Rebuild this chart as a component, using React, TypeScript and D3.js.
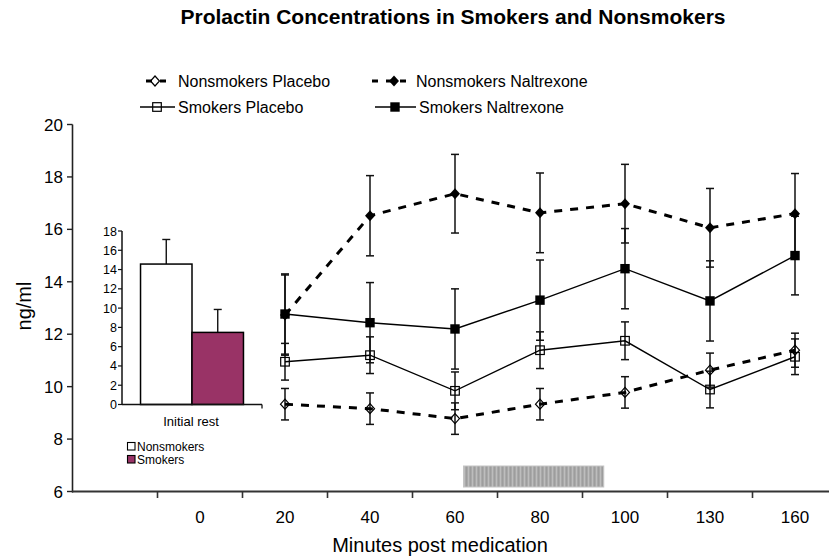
import React from "react";
import * as d3 from "d3";

const categories = ["", "0", "20", "40", "60", "80", "100", "130", "160"];
const timePoints = ["20", "40", "60", "80", "100", "130", "160"];

const nonsmokersPlacebo = [9.33, 9.16, 8.78, 9.33, 9.78, 10.63, 11.39];
const nonsmokersPlaceboErr = [0.6, 0.6, 0.6, 0.6, 0.6, 0.65, 0.65];
const smokersPlacebo = [10.95, 11.2, 9.84, 11.39, 11.75, 9.89, 11.14];
const smokersPlaceboErr = [0.7, 0.7, 0.72, 0.7, 0.72, 0.7, 0.68];
const nonsmokersNaltrexone = [12.73, 16.52, 17.36, 16.63, 16.98, 16.06, 16.6];
const nonsmokersNaltrexoneErr = [1.53, 1.53, 1.5, 1.52, 1.5, 1.5, 1.53];
const smokersNaltrexone = [12.77, 12.44, 12.2, 13.3, 14.5, 13.27, 15.0];
const smokersNaltrexoneErr = [1.53, 1.53, 1.53, 1.53, 1.53, 1.53, 1.5];

const yTicks = [6, 8, 10, 12, 14, 16, 18, 20];

const insetGroups = ["Nonsmokers", "Smokers"];
const insetValues = [14.57, 7.48];
const insetErr = [2.55, 2.38];
const insetTicks = [0, 2, 4, 6, 8, 10, 12, 14, 16, 18];
const insetColors = ["#ffffff", "#993366"];

const stimulusMinutes = [62, 95];

const FONT = "'Liberation Sans', Arial, Helvetica, sans-serif";

type Series = {
  name: string;
  values: number[];
  err: number[];
  dashed: boolean;
  marker: "diamondOpen" | "diamondFilled" | "squareOpen" | "squareFilled";
};

const series: Series[] = [
  { name: "Nonsmokers Placebo", values: nonsmokersPlacebo, err: nonsmokersPlaceboErr, dashed: true, marker: "diamondOpen" },
  { name: "Nonsmokers Naltrexone", values: nonsmokersNaltrexone, err: nonsmokersNaltrexoneErr, dashed: true, marker: "diamondFilled" },
  { name: "Smokers Placebo", values: smokersPlacebo, err: smokersPlaceboErr, dashed: false, marker: "squareOpen" },
  { name: "Smokers Naltrexone", values: smokersNaltrexone, err: smokersNaltrexoneErr, dashed: false, marker: "squareFilled" },
];

function Marker({ type, x, y }: { type: Series["marker"]; x: number; y: number }) {
  if (type === "diamondFilled") {
    return <path d={`M${x},${y - 5.5}L${x + 5},${y}L${x},${y + 5.5}L${x - 5},${y}Z`} fill="#000" />;
  }
  if (type === "diamondOpen") {
    return <path d={`M${x},${y - 5}L${x + 4.5},${y}L${x},${y + 5}L${x - 4.5},${y}Z`} fill="none" stroke="#000" strokeWidth={1.2} />;
  }
  if (type === "squareFilled") {
    return <rect x={x - 4.7} y={y - 4.7} width={9.4} height={9.4} fill="#000" />;
  }
  return <rect x={x - 4.3} y={y - 4.3} width={8.6} height={8.6} fill="none" stroke="#000" strokeWidth={1.2} />;
}

export default function App() {
  const W = 829;
  const H = 557;
  const x = d3.scaleBand<string>().domain(categories).range([72.5, 837.5]).paddingInner(0).paddingOuter(0);
  const y = d3.scaleLinear().domain([6, 20]).range([491.5, 124.5]);
  const bw = x.bandwidth();
  const cx = (c: string) => (x(c) as number) + bw / 2;

  const minuteToX = d3
    .scaleLinear()
    .domain(timePoints.map(Number))
    .range(timePoints.map(cx));

  const line = d3
    .line<number>()
    .x((_, i) => cx(timePoints[i]))
    .y((v) => y(v));

  // inset
  const iy = d3.scaleLinear().domain([0, 18]).range([404.5, 231]);
  const ix0 = 122;
  const ix1 = 262;
  const ixOuter = d3.scaleBand<string>().domain(["Initial rest"]).range([ix0, ix1]);
  const ixInner = d3
    .scaleBand<string>()
    .domain(insetGroups)
    .range([0, ixOuter.bandwidth()])
    .paddingOuter(0.36)
    .paddingInner(0);

  const legendItems = [
    { s: series[0], cx: 155, cy: 81, x1: 146, x2: 172 },
    { s: series[1], cx: 394, cy: 81, x1: 372, x2: 410 },
    { s: series[2], cx: 157, cy: 107, x1: 140, x2: 175 },
    { s: series[3], cx: 395, cy: 107, x1: 375, x2: 416 },
  ];

  const boundaries = categories.slice(1).map((c) => x(c) as number);

  return (
    <svg
      width={W}
      height={H}
      style={{ position: "absolute", left: 0, top: 0, background: "#fff" }}
      fontFamily={FONT}
    >
      <defs>
        <pattern id="stripes" width="4" height="10" patternUnits="userSpaceOnUse">
          <rect width="4" height="10" fill="#a9a9a9" />
          <rect x="0" width="1" height="10" fill="#bdbdbd" />
          <rect x="2" width="1" height="10" fill="#9d9d9d" />
        </pattern>
      </defs>
      <rect width={W} height={H} fill="#fff" />

      {/* Title */}
      <text
        x={453}
        y={23.5}
        textAnchor="middle"
        fontSize={19.5}
        fontWeight="bold"
        textLength={545}
        lengthAdjust="spacingAndGlyphs"
        fill="#000"
      >
        Prolactin Concentrations in Smokers and Nonsmokers
      </text>

      {/* Legend */}
      {legendItems.map(({ s, cx: lx, cy: ly, x1, x2 }) => (
        <g key={s.name}>
          <line
            x1={x1}
            x2={x2}
            y1={ly}
            y2={ly}
            stroke="#000"
            strokeWidth={s.dashed ? 3 : 1.4}
            strokeDasharray={s.dashed ? "6,8" : undefined}
          />
          <Marker type={s.marker} x={lx} y={ly} />
          <text x={s.dashed ? x2 + 6 : x2 + 3} y={ly} dy="0.36em" fontSize={16} fill="#000">
            {s.name}
          </text>
        </g>
      ))}

      {/* Main Y axis */}
      <line x1={72.5} x2={72.5} y1={y(20)} y2={y(6) + 1} stroke="#222" strokeWidth={1.6} />
      {yTicks.map((t) => (
        <g key={t}>
          <line x1={67} x2={72.5} y1={y(t)} y2={y(t)} stroke="#222" strokeWidth={1.4} />
          <text x={63} y={y(t)} dy="0.36em" textAnchor="end" fontSize={17} fill="#000">
            {t}
          </text>
        </g>
      ))}
      <text
        transform={`translate(24,${306}) rotate(-90)`}
        textAnchor="middle"
        dy="0.36em"
        fontSize={20}
        fill="#000"
      >
        ng/ml
      </text>

      {/* Main X axis */}
      <line x1={72} x2={W} y1={y(6)} y2={y(6)} stroke="#333" strokeWidth={2.2} />
      {boundaries.map((b, i) => (
        <line key={i} x1={b} x2={b} y1={y(6)} y2={y(6) + 6.5} stroke="#333" strokeWidth={1.6} />
      ))}
      {categories.map((c) => (
        <text key={c || "blank"} x={cx(c)} y={517} dy="0.36em" textAnchor="middle" fontSize={17} fill="#000">
          {c}
        </text>
      ))}
      <text x={440} y={545} dy="0.36em" textAnchor="middle" fontSize={20} fill="#000">
        Minutes post medication
      </text>

      {/* Stimulus bar */}
      <rect
        x={minuteToX(stimulusMinutes[0])}
        y={466}
        width={minuteToX(stimulusMinutes[1]) - minuteToX(stimulusMinutes[0])}
        height={21}
        fill="url(#stripes)"
        stroke="#c4c4c4"
        strokeWidth={1}
      />

      {/* Error bars */}
      {series.map((s) => (
        <g key={s.name + "err"}>
          {s.values.map((v, i) => {
            const px = cx(timePoints[i]);
            const top = y(v + s.err[i]);
            const bot = y(v - s.err[i]);
            return (
              <g key={i} stroke="#111" strokeWidth={1.5}>
                <line x1={px} x2={px} y1={top} y2={bot} />
                <line x1={px - 4} x2={px + 4} y1={top} y2={top} />
                <line x1={px - 4} x2={px + 4} y1={bot} y2={bot} />
              </g>
            );
          })}
        </g>
      ))}

      {/* Lines */}
      {series.map((s) => (
        <path
          key={s.name + "line"}
          d={line(s.values) || ""}
          fill="none"
          stroke="#000"
          strokeWidth={s.dashed ? 3 : 1.4}
          strokeDasharray={s.dashed ? "8,8" : undefined}
        />
      ))}

      {/* Markers */}
      {series.map((s) => (
        <g key={s.name + "m"}>
          {s.values.map((v, i) => (
            <Marker key={i} type={s.marker} x={cx(timePoints[i])} y={y(v)} />
          ))}
        </g>
      ))}

      {/* Inset chart */}
      <g>
        {insetGroups.map((g, i) => {
          const bx = ix0 + (ixInner(g) as number);
          const bwi = ixInner.bandwidth();
          const top = iy(insetValues[i]);
          const et = iy(insetValues[i] + insetErr[i]);
          const mid = bx + bwi / 2;
          return (
            <g key={g}>
              <line x1={mid} x2={mid} y1={top} y2={et} stroke="#111" strokeWidth={1.4} />
              <line x1={mid - 4} x2={mid + 4} y1={et} y2={et} stroke="#111" strokeWidth={1.4} />
              <rect x={bx} y={top} width={bwi} height={iy(0) - top} fill={insetColors[i]} stroke="#000" strokeWidth={1.5} />
            </g>
          );
        })}
        <line x1={ix0} x2={ix0} y1={iy(18)} y2={iy(0)} stroke="#111" strokeWidth={1.5} />
        <line x1={ix0} x2={ix1} y1={iy(0)} y2={iy(0)} stroke="#111" strokeWidth={1.5} />
        <line x1={ix1} x2={ix1} y1={iy(0)} y2={iy(0) + 4} stroke="#111" strokeWidth={1.3} />
        {insetTicks.map((t) => (
          <g key={t}>
            <line x1={118} x2={ix0} y1={iy(t)} y2={iy(t)} stroke="#111" strokeWidth={1.2} />
            <text x={117} y={iy(t)} dy="0.36em" textAnchor="end" fontSize={12.5} fill="#000">
              {t}
            </text>
          </g>
        ))}
        <text x={(ix0 + ix1) / 2 - 1} y={421} dy="0.36em" textAnchor="middle" fontSize={13} fill="#000">
          Initial rest
        </text>
        {insetGroups.map((g, i) => (
          <g key={g + "leg"}>
            <rect x={127.5} y={442.5 + i * 13} width={7.5} height={7.5} fill={insetColors[i]} stroke="#000" strokeWidth={1.1} />
            <text x={137} y={446.3 + i * 13} dy="0.36em" fontSize={12} fill="#000">
              {g}
            </text>
          </g>
        ))}
      </g>
    </svg>
  );
}
